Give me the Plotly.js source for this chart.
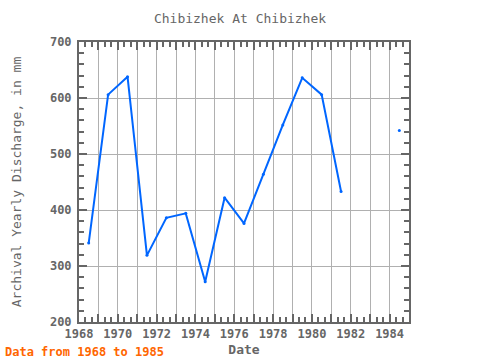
<!DOCTYPE html>
<html>
<head>
<meta charset="utf-8">
<script src="https://cdn.plot.ly/plotly-3.0.1.min.js"></script>
<style>html,body{margin:0;padding:0;background:#fff;}</style>
</head>
<body>
<div id="chart" style="width:480px;height:360px;"></div>
<script>
var years = [1968.5, 1969.5, 1970.5, 1971.5, 1972.5, 1973.5, 1974.5, 1975.5, 1976.5, 1977.5, 1978.5, 1979.5, 1980.5, 1981.5, 1982.5, 1983.5, 1984.5];
var discharge = [341, 606, 638, 319, 386, 394, 272, 422, 376, 464, 552, 636, 606, 433, null, null, 542];
var tickYears = [1968, 1969, 1970, 1971, 1972, 1973, 1974, 1975, 1976, 1977, 1978, 1979, 1980, 1981, 1982, 1983, 1984];
var tickLabels = tickYears.map(function (y) { return (y % 2 === 0) ? String(y) : ''; });

var font = "'DejaVu Sans Mono', 'Liberation Mono', monospace";
var gray = '#666666';

var trace = {
  x: years, y: discharge, type: 'scatter', mode: 'lines+markers',
  line: {color: '#0066ff', width: 2},
  marker: {color: '#0066ff', size: 3},
  connectgaps: false, hoverinfo: 'x+y'
};

var layout = {
  width: 480, height: 360,
  margin: {l: 79, r: 71, t: 42, b: 38},
  paper_bgcolor: '#ffffff', plot_bgcolor: '#ffffff',
  showlegend: false,
  title: {text: 'Chibizhek At Chibizhek', x: 0.5, xanchor: 'center', y: 1 - 18/360, yanchor: 'middle',
          font: {family: font, size: 13, color: gray}},
  xaxis: {
    range: [1968, 1985], tickvals: tickYears, ticktext: tickLabels,
    ticks: 'inside', ticklen: 8, tickwidth: 2, tickcolor: gray,
    showline: true, linecolor: gray, linewidth: 2, mirror: 'allticks',
    showgrid: true, gridcolor: '#b0b0b0', gridwidth: 1, zeroline: false,
    minor: {dtick: 1/3, tick0: 1968, ticks: 'inside', ticklen: 5, tickwidth: 2, tickcolor: gray, showgrid: false},
    tickfont: {family: font, size: 12, color: gray, weight: 'bold'},
    title: {text: 'Date', font: {family: font, size: 13, color: gray, weight: 'bold'}, standoff: 4}
  },
  yaxis: {
    range: [200, 700], dtick: 100, tick0: 200,
    ticks: 'inside', ticklen: 8, tickwidth: 2, tickcolor: gray,
    showline: true, linecolor: gray, linewidth: 2, mirror: 'allticks',
    showgrid: true, gridcolor: '#b0b0b0', gridwidth: 1, zeroline: false,
    minor: {dtick: 20, ticks: 'inside', ticklen: 5, tickwidth: 2, tickcolor: gray, showgrid: false},
    tickfont: {family: font, size: 12, color: gray, weight: 'bold'},
    ticklabelstandoff: 3,
    title: {text: 'Archival Yearly Discharge, in mm', font: {family: font, size: 13, color: gray}, standoff: 25}
  },
  annotations: [{
    text: '<b>Data from 1968 to 1985</b>', xref: 'paper', yref: 'paper',
    x: -76/330, y: -30/280, xanchor: 'left', yanchor: 'middle', showarrow: false,
    font: {family: font, size: 12, color: '#ff6600'}
  }]
};

Plotly.newPlot('chart', [trace], layout, {displayModeBar: false, staticPlot: true});
</script>
</body>
</html>
